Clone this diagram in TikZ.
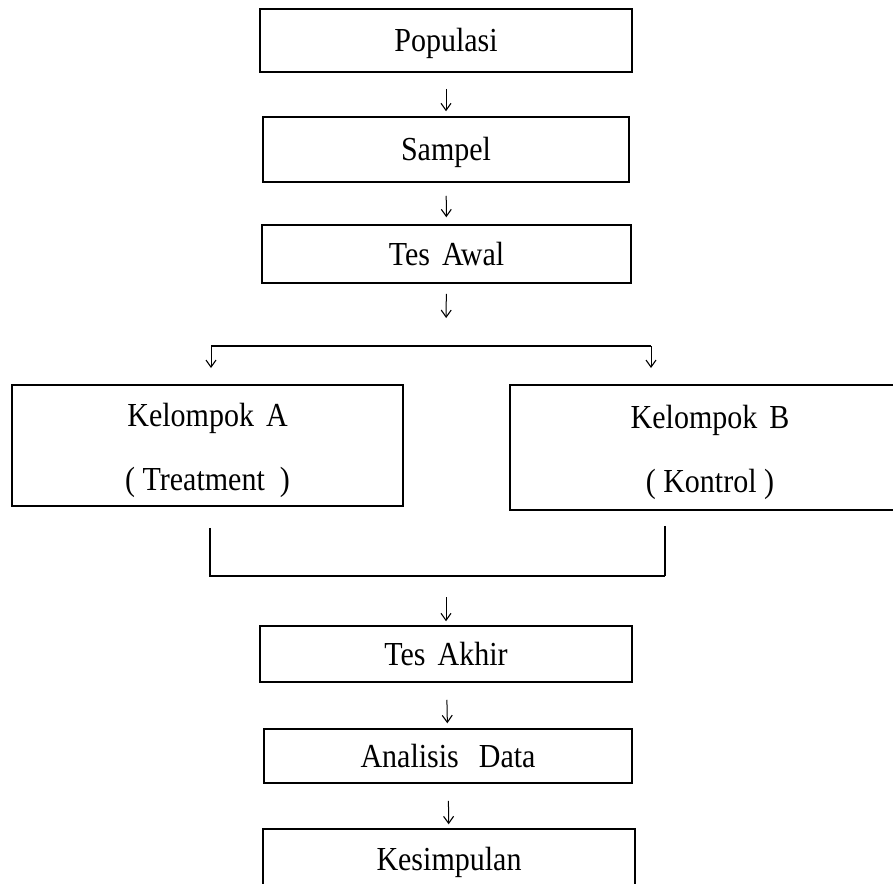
\documentclass[tikz,border=0pt]{standalone}
\usepackage{graphicx}
\usepackage{fontspec}
\setmainfont{Liberation Serif}
\usetikzlibrary{arrows.meta}
\newcommand\gp{\hspace{12pt}}
\newcommand\tx[1]{\scalebox{1}[1.12]{#1}}
\begin{document}
\begin{tikzpicture}[x=1pt,y=-1pt,
  box/.style={draw, line width=1.5pt, inner sep=0pt, text height=22pt, text depth=0pt,
    font=\fontsize{30}{36}\selectfont},
  two/.style={font=\fontsize{30}{57}\selectfont, inner sep=0pt},
  arr/.style={line width=1pt, -{Straight Barb[length=7pt,width=10pt,line width=1.1pt]}},
  ln/.style={line width=1.4pt}]
\useasboundingbox (0,0) rectangle (893,883);
\clip (0,0) rectangle (893,883);
\fill[white] (0,0) rectangle (893,883);

\node[box, minimum width=372pt, minimum height=63pt] (pop) at (446,40.5) {\tx{Populasi}};
\node[box, minimum width=366pt, minimum height=65pt] (samp) at (446,149.5) {\tx{Sampel}};
\node[box, minimum width=369pt, minimum height=58pt] (awal) at (446.5,254) {\tx{Tes\gp Awal}};
\node[box, minimum width=391pt, minimum height=121pt,
  label={[two]center:{\tx{\begin{tabular}{@{}c@{}}Kelompok\gp A\\( Treatment\hspace{15pt})\end{tabular}}}}]
  (kA) at (207.5,445.5) {};
\node[box, minimum width=400pt, minimum height=125pt,
  label={[two]center:{\tx{\begin{tabular}{@{}c@{}}Kelompok\gp B\\( Kontrol )\end{tabular}}}}]
  (kB) at (710,447.5) {};
\node[box, minimum width=372pt, minimum height=56pt] (akhir) at (446,654) {\tx{Tes\gp Akhir}};
\node[box, minimum width=368pt, minimum height=54pt] (anal) at (448,756) {\tx{Analisis\hspace{20pt}Data}};
\node[box, minimum width=372pt, minimum height=60pt] (kes) at (449,859) {\tx{Kesimpulan}};

\coordinate (split) at (446,346);
\coordinate (sl) at (211,346);
\coordinate (sr) at (651,346);
\coordinate (jl) at (210,576);
\coordinate (jr) at (665,576);
\coordinate (jm) at (446,576);

\draw[arr, shorten <=16pt, shorten >=5pt] (pop) -- (samp);
\draw[arr, shorten <=13pt, shorten >=7pt] (samp) -- (awal);
\draw[arr, shorten <=10pt, shorten >=28pt] (awal) -- (split);
\draw[ln] (sl) -- (sr);
\draw[arr] (sl) -- ++(0,22);
\draw[arr] (sr) -- ++(0,22);
\draw[ln, shorten <=21pt] (jl |- kA.south) -- (jl) -- (jr);
\draw[ln, shorten <=15pt] (jr |- kB.south) -- (jr);
\draw[arr, shorten <=21pt, shorten >=4pt] (jm) -- (akhir);
\draw[arr, shorten <=17pt, shorten >=5pt] (akhir) -- (anal);
\draw[arr, shorten <=17pt, shorten >=4pt] (anal) -- (kes);
\end{tikzpicture}
\end{document}
